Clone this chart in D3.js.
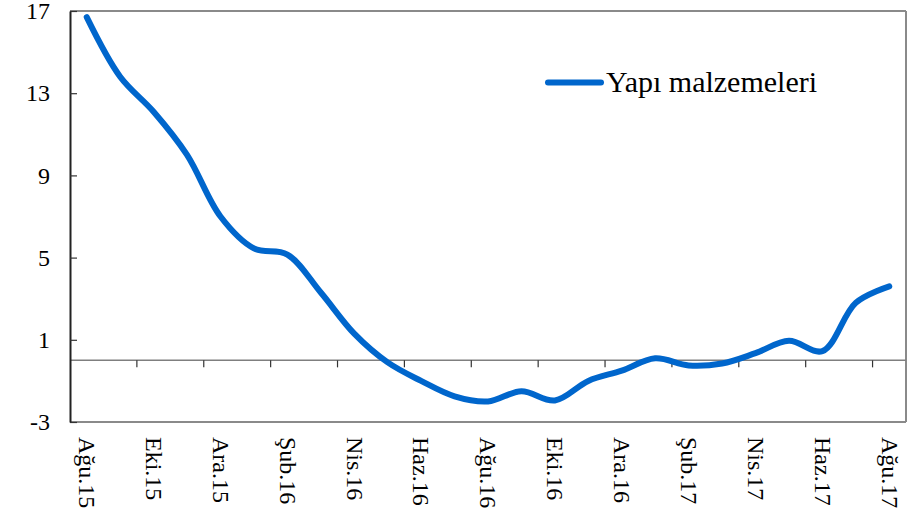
<!DOCTYPE html>
<html>
<head>
<meta charset="utf-8">
<script src="https://cdnjs.cloudflare.com/ajax/libs/d3/7.8.5/d3.min.js"></script>
<style>
  html, body { margin: 0; padding: 0; background: #fff; }
  svg { display: block; }
  text { font-family: "Liberation Serif", "Times New Roman", serif; fill: #000; }
</style>
</head>
<body>
<svg id="chart" width="912" height="519"></svg>
<script>
// ---- Data ----
const months = ["Ağu.15","Eyl.15","Eki.15","Kas.15","Ara.15","Oca.16","Şub.16","Mar.16","Nis.16","May.16","Haz.16","Tem.16",
                "Ağu.16","Eyl.16","Eki.16","Kas.16","Ara.16","Oca.17","Şub.17","Mar.17","Nis.17","May.17","Haz.17","Tem.17","Ağu.17"];
const values = [16.7, 13.8, 12.1, 10.0, 7.0, 5.45, 5.15, 3.3, 1.3, -0.1, -1.0, -1.75,
                -2.0, -1.5, -1.95, -1.0, -0.5, 0.1, -0.25, -0.15, 0.35, 0.95, 0.45, 2.8, 3.6];
const yTicks = [-3, 1, 5, 9, 13, 17];
const seriesName = "Yapı malzemeleri";

// ---- Layout ----
const svg = d3.select("#chart");
const pL = 70, pR = 906, pT = 11, pB = 422;

const x = d3.scaleBand().domain(months).range([pL, pR]).paddingInner(0).paddingOuter(0);
const y = d3.scaleLinear().domain([-3, 17]).range([pB, pT]);
const cx = m => x(m) + x.bandwidth() / 2;

// frame: top, right, bottom (gray)
svg.append("line").attr("x1", pL).attr("x2", pR).attr("y1", pT).attr("y2", pT)
  .attr("stroke", "#8a8a8a").attr("stroke-width", 2);
svg.append("line").attr("x1", pR).attr("x2", pR).attr("y1", pT).attr("y2", pB)
  .attr("stroke", "#8a8a8a").attr("stroke-width", 2);
svg.append("line").attr("x1", pL).attr("x2", pR).attr("y1", pB).attr("y2", pB)
  .attr("stroke", "#8a8a8a").attr("stroke-width", 2);

// zero line
svg.append("line").attr("x1", pL).attr("x2", pR).attr("y1", y(0)).attr("y2", y(0))
  .attr("stroke", "#7f7f7f").attr("stroke-width", 1.5);

// x ticks on zero line (every 2 categories, at category boundaries)
const xTickMonths = months.filter((m, i) => i > 0 && i % 2 === 0);
svg.selectAll(".xtick").data(xTickMonths).enter().append("line")
  .attr("x1", d => x(d)).attr("x2", d => x(d))
  .attr("y1", y(0)).attr("y2", y(0) + 7)
  .attr("stroke", "#333").attr("stroke-width", 1.2);

// y axis
const yAxis = d3.axisLeft(y).tickValues(yTicks).tickFormat(d => String(d))
  .tickSizeInner(-7).tickSizeOuter(0).tickPadding(20);
const yg = svg.append("g").attr("transform", `translate(${pL},0)`).call(yAxis);
yg.select(".domain").attr("stroke", "#222").attr("stroke-width", 2);
yg.selectAll(".tick line").attr("stroke", "#333").attr("stroke-width", 1.2);
yg.selectAll(".tick text").attr("font-size", 24).attr("font-family", "Liberation Serif, Times New Roman, serif").attr("fill", "#000");

// x labels (every 2 months), rotated
const labelMonths = months.filter((m, i) => i % 2 === 0);
svg.selectAll(".xlab").data(labelMonths).enter().append("text")
  .attr("transform", d => `translate(${cx(d)},437) rotate(90)`)
  .attr("dy", "0.32em")
  .attr("text-anchor", "start")
  .attr("font-size", 24)
  .text(d => d);

// series line
const line = d3.line()
  .x((d, i) => cx(months[i]))
  .y(d => y(d))
  .curve(d3.curveCatmullRom.alpha(0.5));
svg.append("path").datum(values)
  .attr("d", line)
  .attr("fill", "none")
  .attr("stroke", "#0066CC")
  .attr("stroke-width", 6)
  .attr("stroke-linecap", "round")
  .attr("stroke-linejoin", "round");

// legend
svg.append("line").attr("x1", 548).attr("x2", 601).attr("y1", 82.5).attr("y2", 82.5)
  .attr("stroke", "#0066CC").attr("stroke-width", 6).attr("stroke-linecap", "round");
svg.append("text").attr("x", 606).attr("y", 92).attr("font-size", 30).text(seriesName);
</script>
</body>
</html>
